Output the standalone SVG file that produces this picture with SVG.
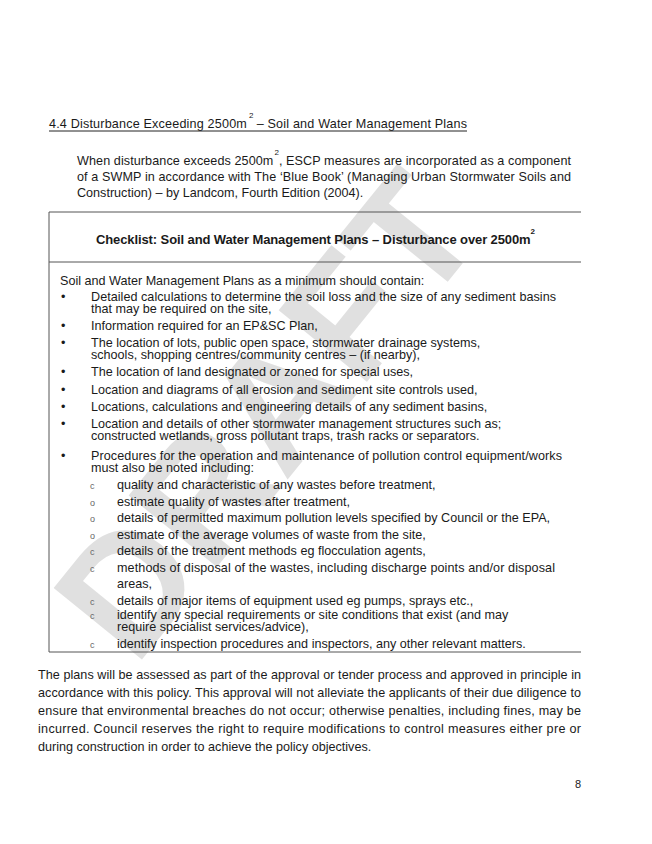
<svg xmlns="http://www.w3.org/2000/svg" width="652" height="844" viewBox="0 0 652 844">
<style>
text{font-family:"Liberation Sans",Arial,sans-serif;font-size:12.6px;fill:#1a1a1a}
.b{font-weight:bold;font-size:13px}
.sup{font-size:8px}
.o{font-size:9px;fill:#666}
.ln{stroke:#555;stroke-width:1}
</style>
<rect width="652" height="844" fill="#fff"/>
<g id="watermark">
<text x="0" y="0" transform="translate(135,668) rotate(-51)" style="font-size:165px;fill:#e0e0e0;font-weight:bold">DRAFT</text>
</g>
<g id="heading">
<text x="49" y="128" textLength="418">4.4  Disturbance Exceeding 2500m<tspan class="sup" dy="-10" dx="2">2</tspan><tspan dy="10" dx="3">– Soil and Water Management Plans</tspan></text>
<line x1="49" y1="131" x2="467" y2="131" stroke="#222"/>
</g>
<g id="intro">
<text x="77" y="165" textLength="494">When disturbance exceeds 2500m<tspan class="sup" dy="-10" dx="1">2</tspan><tspan dy="10">, ESCP measures are incorporated as a component</tspan></text>
<text x="77" y="181" textLength="494">of a SWMP in accordance with The ‘Blue Book’ (Managing Urban Stormwater Soils and</text>
<text x="77" y="197">Construction) – by Landcom, Fourth Edition (2004).</text>
</g>
<g id="table">
<line class="ln" x1="49" y1="212" x2="581" y2="212"/>
<line class="ln" x1="49" y1="262" x2="581" y2="262"/>
<line class="ln" x1="49" y1="652" x2="581" y2="652"/>
<line class="ln" x1="49" y1="212" x2="49" y2="652"/>
<text class="b" x="96" y="244" textLength="439">Checklist: Soil and Water Management Plans – Disturbance over 2500m<tspan class="sup" dy="-10">2</tspan></text>
<text x="60" y="285">Soil and Water Management Plans as a minimum should contain:</text>
<g id="bullets">
<text x="61" y="301">•</text><text x="91" y="301" textLength="465">Detailed calculations to determine the soil loss and the size of any sediment basins</text>
<text x="91" y="313">that may be required on the site,</text>
<text x="61" y="330">•</text><text x="91" y="330">Information required for an EP&amp;SC Plan,</text>
<text x="61" y="347">•</text><text x="91" y="347">The location of lots, public open space, stormwater drainage systems,</text>
<text x="91" y="359">schools, shopping centres/community centres – (if nearby),</text>
<text x="61" y="376">•</text><text x="91" y="376">The location of land designated or zoned for special uses,</text>
<text x="61" y="394">•</text><text x="91" y="394">Location and diagrams of all erosion and sediment site controls used,</text>
<text x="61" y="411">•</text><text x="91" y="411">Locations, calculations and engineering details of any sediment basins,</text>
<text x="61" y="428">•</text><text x="91" y="428">Location and details of other stormwater management structures such as;</text>
<text x="91" y="440">constructed wetlands, gross pollutant traps, trash racks or separators.</text>
<text x="61" y="460">•</text><text x="91" y="460" textLength="471">Procedures for the operation and maintenance of pollution control equipment/works</text>
<text x="91" y="472">must also be noted including:</text>
</g>
<g id="subbullets">
<text class="o" x="90" y="489">c</text><text x="117" y="489">quality and characteristic of any wastes before treatment,</text>
<text class="o" x="90" y="506">o</text><text x="117" y="506">estimate quality of wastes after treatment,</text>
<text class="o" x="90" y="522">o</text><text x="117" y="522">details of permitted maximum pollution levels specified by Council or the EPA,</text>
<text class="o" x="90" y="539">o</text><text x="117" y="539">estimate of the average volumes of waste from the site,</text>
<text class="o" x="90" y="555">c</text><text x="117" y="555">details of the treatment methods eg flocculation agents,</text>
<text class="o" x="90" y="572">c</text><text x="117" y="572" textLength="438">methods of disposal of the wastes, including discharge points and/or disposal</text>
<text x="117" y="588">areas,</text>
<text class="o" x="90" y="605">c</text><text x="117" y="605">details of major items of equipment used eg pumps, sprays etc.,</text>
<text class="o" x="90" y="619">c</text><text x="117" y="619">identify any special requirements or site conditions that exist (and may</text>
<text x="117" y="631">require specialist services/advice),</text>
<text class="o" x="90" y="648">c</text><text x="117" y="648">identify inspection procedures and inspectors, any other relevant matters.</text>
</g>
</g>
<g id="closing">
<text x="38" y="679" textLength="543">The plans will be assessed as part of the approval or tender process and approved in principle in</text>
<text x="38" y="697" textLength="543">accordance with this policy. This approval will not alleviate the applicants of their due diligence to</text>
<text x="38" y="715" textLength="543">ensure that environmental breaches do not occur; otherwise penalties, including fines, may be</text>
<text x="38" y="733" textLength="543">incurred. Council reserves the right to require modifications to control measures either pre or</text>
<text x="38" y="751">during construction in order to achieve the policy objectives.</text>
</g>
<text x="575" y="788" style="font-size:11px">8</text>
</svg>
